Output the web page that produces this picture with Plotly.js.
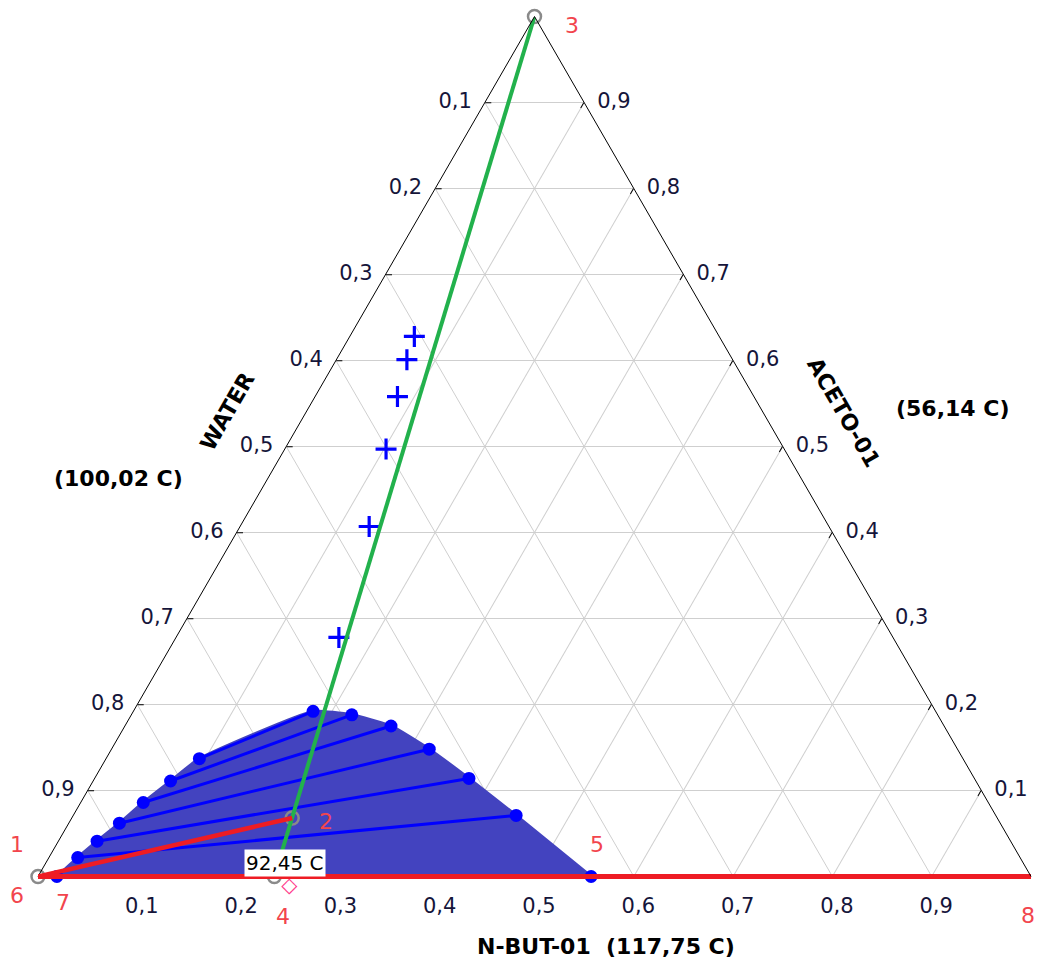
<!DOCTYPE html>
<html><head><meta charset="utf-8">
<script src="https://cdn.plot.ly/plotly-3.0.1.min.js"></script>
<style>html,body{margin:0;padding:0;background:#fff;overflow:hidden}</style>
</head><body><div id="chart" style="width:1038px;height:963px"></div>
<script>
// Compositions (mole fractions): a = ACETO-01, b = WATER, c = N-BUT-01
// Tie-line ends, water-rich phase
const waterPhaseAcetone = [0.000, 0.022, 0.041, 0.062, 0.086, 0.111, 0.137];
const waterPhaseWater   = [0.981, 0.949, 0.920, 0.887, 0.851, 0.811, 0.769];
const waterPhaseNbut    = [0.019, 0.029, 0.039, 0.051, 0.063, 0.078, 0.094];
// Tie-line ends, organic-rich phase
const organicPhaseAcetone = [0.000, 0.071, 0.114, 0.148, 0.175, 0.188, 0.192];
const organicPhaseWater   = [0.443, 0.483, 0.509, 0.532, 0.557, 0.590, 0.627];
const organicPhaseNbut    = [0.557, 0.446, 0.377, 0.320, 0.268, 0.222, 0.181];
// Experimental points (+)
const expAcetone = [0.628, 0.601, 0.558, 0.497, 0.407, 0.278];
const expWater   = [0.307, 0.328, 0.359, 0.401, 0.463, 0.558];
const expNbut    = [0.065, 0.071, 0.083, 0.102, 0.130, 0.164];
// Numbered points 1..8
const pointNames   = ['1', '2', '3', '4', '5', '6', '7', '8'];
const pointAcetone = [0.000, 0.068, 1.000, 0.000, 0.000, 0.000, 0.000, 0.000];
const pointWater   = [1.000, 0.710, 0.000, 0.762, 0.443, 1.000, 0.981, 0.000];
const pointNbut    = [0.000, 0.222, 0.000, 0.238, 0.557, 0.000, 0.019, 1.000];
// Lines between numbered points (indices into the arrays above)
const greenLine = [2, 3];                    // 3 -> 4
const redLines  = [[0, 1], [4, 5], [6, 7]];  // 1-2, 5-6, 7-8
const circlePoints = [2, 5, 3, 1];           // open grey circles
// Azeotrope label / marker (on the water - n-butyl acetate edge)
const azeoLabel = '92,45 C';
const azeoAcetone = [0.000], azeoWater = [0.747], azeoNbut = [0.253];
// Axis texts
const tickValues = [0.1, 0.2, 0.3, 0.4, 0.5, 0.6, 0.7, 0.8, 0.9];
const tickLabels = ['0,1', '0,2', '0,3', '0,4', '0,5', '0,6', '0,7', '0,8', '0,9'];
const compNames = ['WATER', 'ACETO-01', 'N-BUT-01'];
const compTemps = ['(100,02 C)', '(56,14 C)', '(117,75 C)'];

const FONT = 'DejaVu Sans, Verdana, sans-serif';
const RED = '#ee1c24', BLUE = '#0000ff', FILL = '#4343bf', GREEN = '#22b14c', GREY = '#8a8a8a';
const pick = (arr, idx) => idx.map(i => arr[i]);

const traces = [];
// binodal region
traces.push({
  type: 'scatterternary', mode: 'lines',
  a: waterPhaseAcetone.concat(organicPhaseAcetone.slice().reverse()),
  b: waterPhaseWater.concat(organicPhaseWater.slice().reverse()),
  c: waterPhaseNbut.concat(organicPhaseNbut.slice().reverse()),
  fill: 'toself', fillcolor: FILL, line: {color: FILL, width: 3, shape: 'spline', smoothing: 0.45},
  hoverinfo: 'skip'
});
// tie lines
const tA = [], tB = [], tC = [];
waterPhaseAcetone.forEach((_, i) => {
  tA.push(waterPhaseAcetone[i], organicPhaseAcetone[i], null);
  tB.push(waterPhaseWater[i], organicPhaseWater[i], null);
  tC.push(waterPhaseNbut[i], organicPhaseNbut[i], null);
});
traces.push({type: 'scatterternary', mode: 'lines', a: tA, b: tB, c: tC,
  connectgaps: false, line: {color: BLUE, width: 3}, hoverinfo: 'skip'});
// tie-line end dots
traces.push({type: 'scatterternary', mode: 'markers',
  a: waterPhaseAcetone.concat(organicPhaseAcetone),
  b: waterPhaseWater.concat(organicPhaseWater),
  c: waterPhaseNbut.concat(organicPhaseNbut),
  marker: {color: BLUE, size: 13, line: {width: 0}}, cliponaxis: false, hoverinfo: 'skip'});
// experimental + points
traces.push({type: 'scatterternary', mode: 'markers', a: expAcetone, b: expWater, c: expNbut,
  marker: {symbol: 'cross-thin', size: 15, line: {color: BLUE, width: 3.2}}, hoverinfo: 'skip'});
// grey circles
traces.push({type: 'scatterternary', mode: 'markers',
  a: pick(pointAcetone, circlePoints), b: pick(pointWater, circlePoints), c: pick(pointNbut, circlePoints),
  marker: {symbol: 'circle-open', size: 13, color: GREY, line: {width: 2.5}}, cliponaxis: false, hoverinfo: 'skip'});
// azeotrope diamond (drawn just below the edge)
traces.push({type: 'scatterternary', mode: 'text', a: azeoAcetone, b: azeoWater, c: azeoNbut,
  text: ['\u25C7'], textposition: 'bottom center', textfont: {family: FONT, size: 21, color: '#ff3c8c', weight: 'bold'},
  cliponaxis: false, hoverinfo: 'skip'});
// green line 3-4
traces.push({type: 'scatterternary', mode: 'lines',
  a: pick(pointAcetone, greenLine), b: pick(pointWater, greenLine), c: pick(pointNbut, greenLine),
  line: {color: GREEN, width: 4}, cliponaxis: false, hoverinfo: 'skip'});
// red lines
redLines.forEach(seg => traces.push({type: 'scatterternary', mode: 'lines',
  a: pick(pointAcetone, seg), b: pick(pointWater, seg), c: pick(pointNbut, seg),
  line: {color: RED, width: 4.5}, cliponaxis: false, hoverinfo: 'skip'}));

const tickFont = {family: FONT, size: 21, color: '#15153a'};
const revLabels = tickLabels.slice().reverse();
const axisCommon = {
  tickmode: 'array', tickvals: tickValues, ticktext: revLabels,
  ticks: 'inside', ticklen: 6, tickwidth: 1, tickcolor: '#000',
  showline: true, linecolor: '#000', linewidth: 1,
  showgrid: true, gridcolor: '#cfcfcf', gridwidth: 1,
  tickfont: tickFont, title: {text: ''}
};

// paper coordinates of a composition (plot area = triangle box)
const PW = 993, PH = 861, TH = 860;
const px = (a, b, c) => { const s = a + b + c; return c / s + a / s / 2; };
const py = (a, b, c) => { const s = a + b + c; return (0.5 + (a / s) * TH) / PH; };
const pxl = x => (x - 38) / PW, pyl = y => (877 - y) / PH;

const labelShift = [[-21, 32], [34, -3], [37, -9], [9, -40], [6, 32], [-21, -19], [6, -26], [-3, -39]];
const annotations = pointNames.map((t, i) => ({
  text: t, xref: 'paper', yref: 'paper', xanchor: 'center', yanchor: 'middle',
  x: px(pointAcetone[i], pointWater[i], pointNbut[i]), y: py(pointAcetone[i], pointWater[i], pointNbut[i]),
  xshift: labelShift[i][0], yshift: labelShift[i][1], showarrow: false,
  font: {family: FONT, size: 22, color: '#f2454d'}
}));
annotations.push({text: azeoLabel, xref: 'paper', yref: 'paper', xanchor: 'center', yanchor: 'middle',
  x: px(pointAcetone[3], pointWater[3], pointNbut[3]), y: py(pointAcetone[3], pointWater[3], pointNbut[3]),
  xshift: 11, yshift: 14, showarrow: false, bgcolor: '#ffffff', borderpad: 1,
  font: {family: FONT, size: 20, color: '#000'}});
const bold = {family: FONT, size: 22, color: '#000', weight: 'bold'};
const titleAnn = (text, x, y, ang) => ({text: text, xref: 'paper', yref: 'paper', x: pxl(x), y: pyl(y),
  xanchor: 'center', yanchor: 'middle', textangle: ang, showarrow: false, font: bold});
annotations.push(titleAnn(compNames[0], 227, 411, -60));
annotations.push(titleAnn(compTemps[0], 118, 478, 0));
annotations.push(titleAnn(compNames[1], 844, 412, 60));
annotations.push(titleAnn(compTemps[1], 953, 408, 0));
annotations.push(titleAnn(compNames[2] + '\u00a0 ' + compTemps[2], 606, 946, 0));

const layout = {
  width: 1038, height: 963,
  margin: {l: 38, r: 7, t: 16, b: 86, pad: 0},
  paper_bgcolor: '#fff', showlegend: false,
  ternary: {
    sum: 1, domain: {x: [0, 1], y: [0, 1]}, bgcolor: '#fff',
    // left edge labels (water fraction)
    aaxis: Object.assign({}, axisCommon, {ticktext: revLabels.map(t => t + '\u2002')}),
    // bottom edge labels (n-butyl acetate fraction); bottom edge carries the red 5-6 / 7-8 lines
    baxis: Object.assign({}, axisCommon, {ticks: 'outside', ticklen: 9, tickcolor: 'rgba(0,0,0,0)',
      linecolor: RED, linewidth: 5}),
    // right edge labels (acetone fraction)
    caxis: Object.assign({}, axisCommon, {ticktext: revLabels.map(t => '\u2002' + t)})
  },
  annotations: annotations
};
Plotly.newPlot('chart', traces, layout, {staticPlot: true, displayModeBar: false});
</script></body></html>
